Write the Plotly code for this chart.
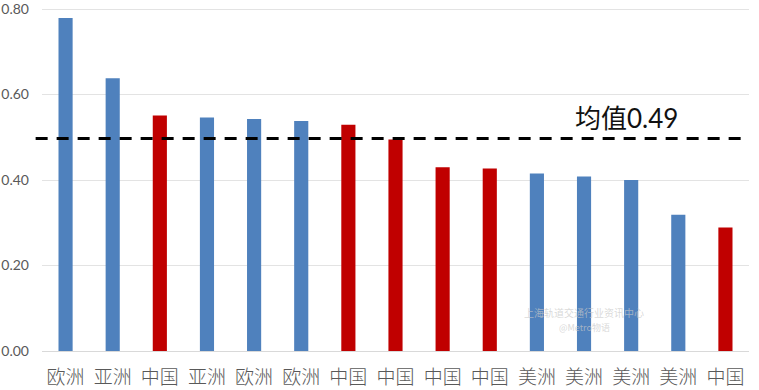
import plotly.graph_objects as go

categories = ["欧洲", "亚洲", "中国", "亚洲", "欧洲", "欧洲", "中国", "中国",
              "中国", "中国", "美洲", "美洲", "美洲", "美洲", "中国"]
values = [0.779, 0.638, 0.551, 0.546, 0.543, 0.538, 0.529, 0.495,
          0.430, 0.427, 0.415, 0.408, 0.400, 0.319, 0.289]
mean_line = 0.497
mean_label = "均值0.49"
y_ticks = [0.0, 0.2, 0.4, 0.6, 0.8]
y_ticklabels = ["0.00", "0.20", "0.40", "0.60", "0.80"]

BLUE = "#4F81BD"
RED = "#C00000"
colors = [RED if c == "中国" else BLUE for c in categories]
x_idx = list(range(len(categories)))

fig = go.Figure()
fig.add_trace(go.Bar(
    x=x_idx, y=values, marker=dict(color=colors, line=dict(width=0)),
    width=0.3, showlegend=False, hoverinfo="y",
))

fig.add_shape(type="line", xref="paper", yref="y", x0=-0.009, x1=1.0,
              y0=mean_line, y1=mean_line,
              line=dict(color="black", width=3, dash="12px,9px"))
fig.add_annotation(x=11.9, y=mean_line, xref="x", yref="y", text=mean_label,
                   showarrow=False, yshift=21, xanchor="center",
                   font=dict(size=26, color="#111111",
                             family="Lato, Noto Sans CJK SC"))

# faint watermark text
fig.add_annotation(x=11.0, y=0.09, xref="x", yref="y",
                   text="上海轨道交通行业资讯中心", showarrow=False,
                   font=dict(size=10, color="rgba(200,200,200,0.7)",
                             family="Noto Sans CJK SC"))
fig.add_annotation(x=11.0, y=0.055, xref="x", yref="y",
                   text="@Metro物语", showarrow=False,
                   font=dict(size=9, color="rgba(200,200,200,0.7)",
                             family="Noto Sans CJK SC"))

fig.update_layout(
    width=759, height=390,
    margin=dict(l=42, r=10, t=8, b=39),
    paper_bgcolor="white", plot_bgcolor="white",
    bargap=0.7,
    font=dict(family="Lato, Noto Sans CJK SC", color="#595959"),
)
fig.update_xaxes(
    tickmode="array", tickvals=x_idx, ticktext=categories,
    range=[-0.5, len(categories) - 0.5], automargin=False,
    tickfont=dict(size=19, family="Noto Sans CJK SC", color="#595959",
                  weight=300),
    showgrid=False, showline=False, zeroline=False, ticks="",
    ticklabelstandoff=13,
)
fig.update_yaxes(
    range=[0, 0.8024], tickmode="array", tickvals=y_ticks, ticktext=y_ticklabels,
    tickfont=dict(size=14, color="#595959"), automargin=False,
    showgrid=True, gridcolor="#E3E3E3", gridwidth=1,
    zeroline=True, zerolinecolor="#D9D9D9", zerolinewidth=1,
    showline=False, ticks="", ticklabelstandoff=12,
    ticklabeloverflow="allow",
)

fig.write_html("out.html", config={"displayModeBar": False},
               post_script="document.body.style.margin='0';document.body.style.overflow='hidden';")
